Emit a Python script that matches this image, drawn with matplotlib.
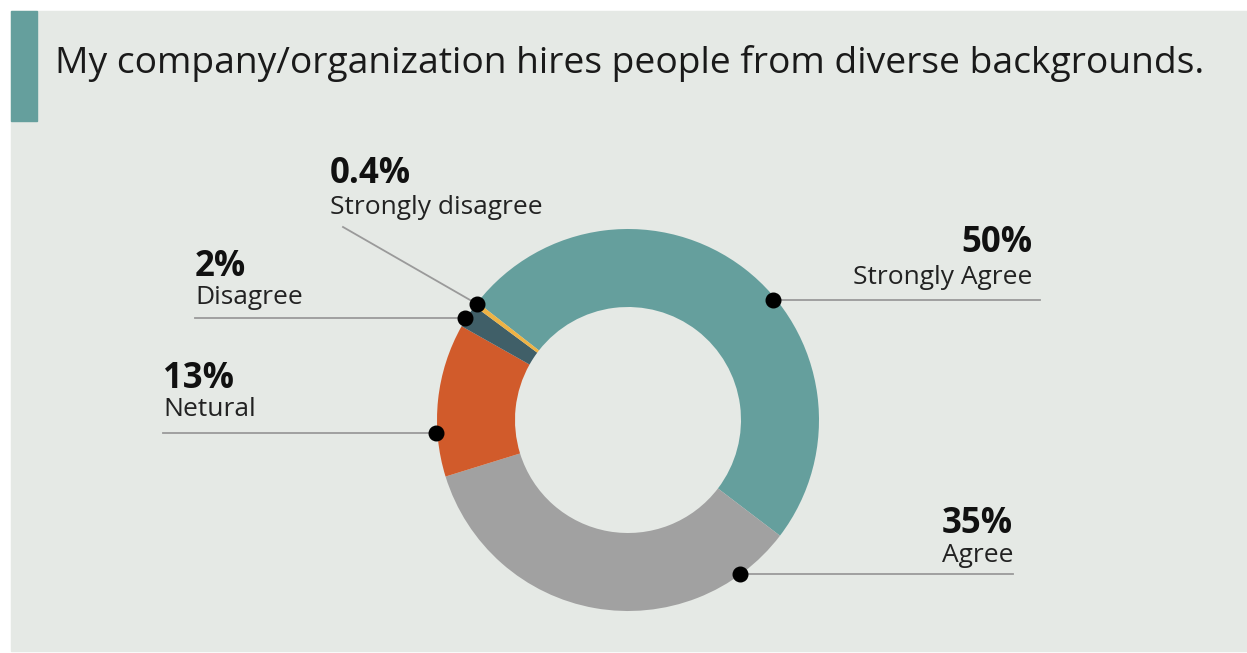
import matplotlib
matplotlib.use("Agg")
import matplotlib.pyplot as plt
from matplotlib.patches import Rectangle

# Survey responses
categories = ["Strongly Agree", "Agree", "Netural", "Disagree", "Strongly disagree"]
shares = [50, 35, 13, 2, 0.4]
pct_labels = ["50%", "35%", "13%", "2%", "0.4%"]
colors = ["#659f9d", "#a1a1a1", "#d15b2b", "#405f68", "#efb345"]

title = "My company/organization hires people from diverse backgrounds."

W, H = 1247, 653
fig = plt.figure(figsize=(W / 100, H / 100), dpi=100)
fig.patch.set_facecolor("white")
ax = fig.add_axes([0, 0, 1, 1])

def Y(y):
    return H - y

cx, cy, R = 628, Y(420), 191
ax.pie(shares, colors=colors, startangle=142, counterclock=False,
       center=(cx, cy), radius=R, frame=True,
       wedgeprops=dict(width=78, linewidth=0, zorder=2))
ax.set_xlim(0, W)
ax.set_ylim(0, H)
ax.set_aspect("equal")
ax.axis("off")

# panel background and accent bar
ax.add_patch(Rectangle((11, Y(651)), W - 11, 640, color="#e5e9e5", zorder=0))
ax.add_patch(Rectangle((11, Y(121)), 26, 110, color="#659f9d", zorder=1))

ax.text(55, Y(63), title, fontsize=26.8, family="Open Sans", color="#1a1a1a",
        va="center", ha="left")

line_c = "#9a9a9a"
# leader lines and dots
leaders = [
    ((773, 300), (773, 1040), (300, 300)),
    ((740, 574), (740, 1013), (574, 574)),
    ((436, 433), (163, 436), (433, 433)),
    ((465, 318), (195, 465), (318, 318)),
    ((477, 304), (343, 477), (227, 304)),
]
for (dx, dy), xs, ys in leaders:
    ax.plot(xs, [Y(v) for v in ys], color=line_c, lw=1.3, zorder=3)
    ax.plot(dx, Y(dy), "o", color="black", ms=10.5, zorder=5)

# label text: (x, y_pct, y_name, ha)
label_pos = [
    (1032, 243, 277, "right"),
    (1013, 524, 555, "right"),
    (163, 379, 410, "left"),
    (195, 267, 298, "left"),
    (330, 174, 208, "left"),
]
for (x, yp, yn, ha), pct, name in zip(label_pos, pct_labels, categories):
    ax.text(x, Y(yp), pct, fontsize=25, fontweight="bold", family="Open Sans",
            color="#111111", ha=ha, va="center")
    ax.text(x, Y(yn), name, fontsize=19, family="Open Sans",
            color="#222222", ha=ha, va="center")

fig.savefig("out.png", dpi=100, facecolor=fig.get_facecolor())
